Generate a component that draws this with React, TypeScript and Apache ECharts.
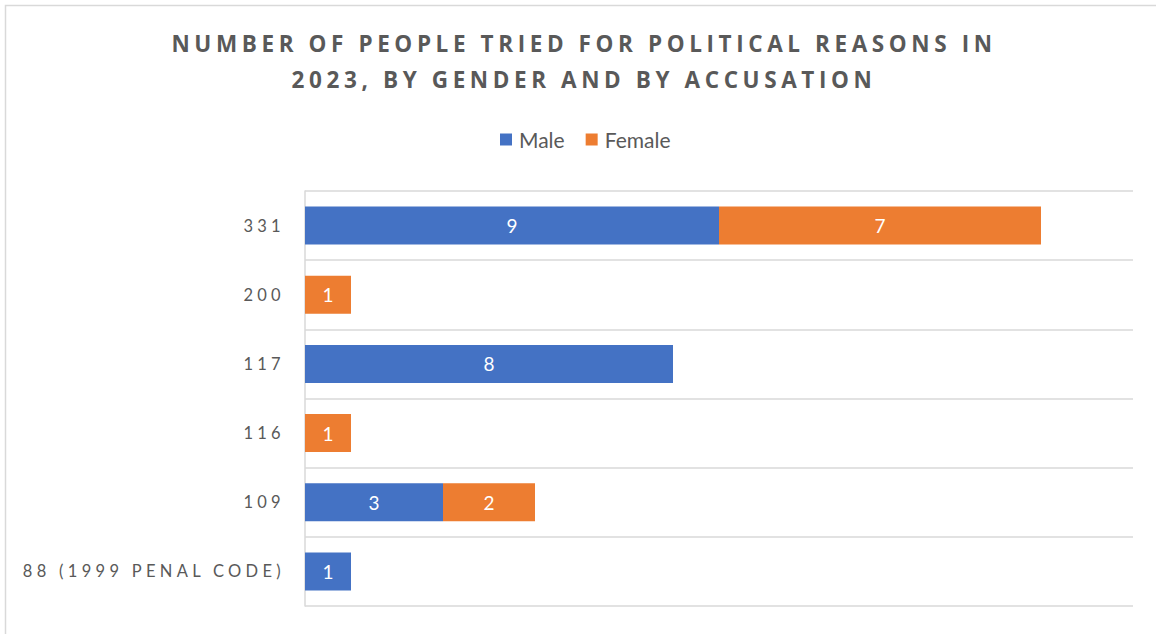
import React, { useEffect, useRef } from "react";
import * as echarts from "echarts";

const categories = ["88 (1999 PENAL CODE)", "109", "116", "117", "200", "331"];
const maleValues = [1, 3, null, 8, null, 9];
const femaleValues = [null, 2, 1, null, 1, 7];
const titleLines = ["NUMBER OF PEOPLE TRIED FOR POLITICAL REASONS IN", "2023, BY GENDER AND BY ACCUSATION"];

function applySpacing(el: HTMLElement) {
  const texts = el.querySelectorAll("text");
  texts.forEach((t) => {
    const s = (t.textContent || "").trim();
    if (titleLines.includes(s)) {
      (t as any).style.letterSpacing = "4.6px";
    } else if (categories.includes(s)) {
      (t as any).style.letterSpacing = "4.3px";
    }
  });
}

export default function App() {
  const ref = useRef<HTMLDivElement>(null);
  useEffect(() => {
    if (!ref.current) return;
    const chart = echarts.init(ref.current, null, { renderer: "svg" });
    chart.setOption({
      animation: false,
      backgroundColor: "#ffffff",
      title: {
        text: titleLines.join("\n"),
        left: 579,
        top: 20,
        textAlign: "center",
        textStyle: {
          fontFamily: "Open Sans",
          fontWeight: "bold",
          fontSize: 22.5,
          color: "#595959",
          lineHeight: 36,
        },
      },
      legend: {
        data: ["Male", "Female"],
        left: 495,
        top: 124,
        itemWidth: 12,
        itemHeight: 12,
        itemGap: 21,
        icon: "rect",
        textStyle: { fontFamily: "Lato", fontSize: 21, color: "#595959", padding: [0, 0, 0, 2] },
      },
      grid: { left: 305, right: 23, top: 191, bottom: 28, containLabel: false },
      xAxis: { type: "value", min: 0, max: 18, show: false },
      yAxis: {
        type: "category",
        data: categories,
        axisLine: { show: true, lineStyle: { color: "#d9d9d9", width: 1.5 } },
        axisTick: { show: false },
        splitLine: { show: true, lineStyle: { color: "#d9d9d9", width: 1.5 } },
        axisLabel: { fontFamily: "Lato", fontSize: 16.5, color: "#595959", margin: 20 },
      },
      graphic: [
        {
          type: "rect",
          shape: { x: 5.5, y: 5.5, width: 1200, height: 700 },
          style: { fill: "none", stroke: "#d9d9d9", lineWidth: 1.5 },
          silent: true,
        },
      ],
      series: [
        {
          name: "Male",
          type: "bar",
          stack: "total",
          data: maleValues,
          barCategoryGap: "45%",
          itemStyle: { color: "#4472C4" },
          label: { show: true, position: "inside", color: "#ffffff", fontFamily: "Lato", fontSize: 19 },
        },
        {
          name: "Female",
          type: "bar",
          stack: "total",
          data: femaleValues,
          barCategoryGap: "45%",
          itemStyle: { color: "#ED7D31" },
          label: { show: true, position: "inside", color: "#ffffff", fontFamily: "Lato", fontSize: 19 },
        },
      ],
    });
    const el = ref.current;
    applySpacing(el);
    const t1 = setTimeout(() => applySpacing(el), 0);
    const t2 = setTimeout(() => applySpacing(el), 100);
    chart.on("finished", () => applySpacing(el));
    return () => {
      clearTimeout(t1);
      clearTimeout(t2);
      chart.dispose();
    };
  }, []);
  return <div ref={ref} style={{ position: "fixed", left: 0, top: 0, width: 1156, height: 634 }} />;
}
